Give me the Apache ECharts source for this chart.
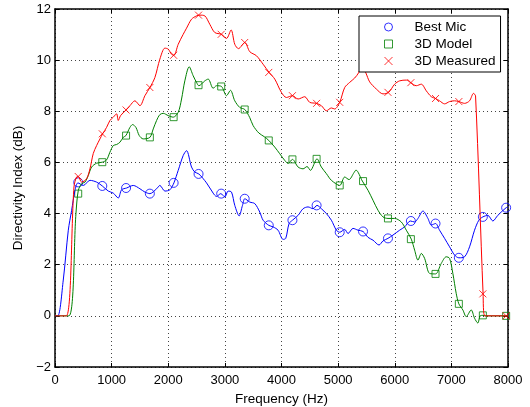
<!DOCTYPE html>
<html><head><meta charset="utf-8">
<script src="https://cdn.jsdelivr.net/npm/echarts@6/dist/echarts.min.js"></script>
<style>html,body{margin:0;padding:0;background:#fff}#c{width:530px;height:407px}</style>
</head><body><div id="c"></div>
<script>
// x-axis / y-axis tick definitions
const xTicks = [0, 1000, 2000, 3000, 4000, 5000, 6000, 7000, 8000];
const yTicks = [-2, 0, 2, 4, 6, 8, 10, 12];

// Curves: [frequency (Hz), directivity index (dB)]
const bestMic = [[0,0],[50,0],[146,1.40],[235,3.35],[294,4.13],[353,4.9],[405,5.2],[500,5.1],[617,5.3],[735,5.23],[835,5.08],[941,4.88],[1029,4.8],[1117,4.61],[1176,4.93],[1264,5.0],[1382,5.1],[1500,4.97],[1588,4.84],[1676,4.78],[1794,4.97],[1852,5.1],[1941,4.88],[2029,4.93],[2100,5.2],[2176,5.69],[2264,6.27],[2323,6.46],[2411,5.82],[2470,5.62],[2540,5.55],[2676,5.2],[2793,4.8],[2852,4.67],[2928,4.78],[2999,4.65],[3058,4.88],[3117,4.84],[3175,4.32],[3252,3.91],[3311,4.32],[3352,4.58],[3440,4.45],[3528,4.39],[3616,4.06],[3675,3.74],[3775,3.54],[3851,3.48],[3939,3.35],[4028,2.99],[4075,3.03],[4134,3.61],[4193,3.74],[4293,3.93],[4381,4.19],[4469,4.26],[4557,4.19],[4627,4.32],[4704,4.19],[4793,4.0],[4881,3.74],[4969,3.35],[5028,3.27],[5116,3.38],[5175,3.22],[5263,3.42],[5351,3.35],[5440,3.3],[5528,3.07],[5616,2.96],[5722,2.77],[5792,2.93],[5880,3.03],[5969,3.16],[6086,3.35],[6175,3.48],[6275,3.71],[6351,3.67],[6410,3.81],[6498,4.1],[6586,3.81],[6645,3.55],[6721,3.61],[6791,3.35],[6880,3.03],[6968,2.7],[7056,2.38],[7132,2.27],[7233,2.31],[7321,2.7],[7409,3.35],[7485,3.74],[7556,3.87],[7644,3.93],[7732,3.71],[7820,3.93],[7967,4.23],[8000,4.25]];

const model3D = [[0,0],[245,0],[370,4.0],[411,4.9],[470,5.17],[529,5.23],[588,5.49],[647,5.82],[735,5.97],[835,6.01],[911,6.1],[970,6.4],[1029,6.66],[1088,6.7],[1147,6.79],[1205,6.98],[1252,7.05],[1323,7.37],[1370,7.48],[1429,7.37],[1488,7.05],[1558,6.92],[1676,6.98],[1735,7.31],[1794,7.64],[1852,7.87],[1911,7.92],[2000,7.83],[2088,7.77],[2176,7.96],[2235,8.48],[2293,9.19],[2370,9.74],[2440,9.39],[2499,9.13],[2540,9.0],[2646,9.19],[2705,9.26],[2793,8.9],[2852,9.0],[2940,8.97],[3029,8.61],[3099,8.82],[3175,8.41],[3263,8.15],[3352,8.07],[3440,7.75],[3499,7.44],[3600,7.15],[3700,7.0],[3775,6.86],[3881,6.6],[3969,6.34],[4057,6.08],[4116,5.96],[4193,6.12],[4293,5.82],[4381,5.75],[4451,5.84],[4510,5.69],[4627,6.14],[4704,5.82],[4793,5.56],[4881,5.3],[5028,5.1],[5116,5.43],[5192,5.33],[5280,5.6],[5315,5.7],[5428,5.27],[5528,4.91],[5616,4.52],[5704,4.13],[5792,3.87],[5880,3.81],[5998,3.81],[6116,3.67],[6204,3.35],[6292,3.0],[6351,2.57],[6410,2.18],[6469,2.44],[6527,2.25],[6615,1.66],[6721,1.64],[6821,2.05],[6909,2.31],[6968,2.25],[7026,1.66],[7085,0.88],[7132,0.47],[7203,0.23],[7262,-0.03],[7350,0.23],[7409,-0.09],[7467,-0.28],[7509,0],[7556,0.02],[7600,0],[8000,0]];

const measured3D = [[0,0],[200,0],[335,5.04],[380,5.43],[410,5.45],[470,5.23],[558,5.36],[617,5.75],[676,6.35],[735,6.66],[794,6.92],[841,7.12],[911,7.37],[970,7.64],[1029,7.77],[1088,7.9],[1117,7.64],[1158,7.83],[1252,8.05],[1323,8.22],[1411,8.41],[1500,8.22],[1588,8.61],[1676,8.93],[1764,9.32],[1852,10.04],[1941,10.47],[2000,10.43],[2058,10.23],[2100,10.19],[2176,10.62],[2264,11.01],[2323,11.25],[2411,11.6],[2499,11.73],[2558,11.76],[2646,11.73],[2734,11.4],[2822,11.08],[2940,11.01],[3029,10.85],[3110,11.18],[3175,10.62],[3240,10.45],[3352,10.69],[3440,10.33],[3558,10.17],[3675,9.84],[3781,9.52],[3881,9.26],[3998,8.74],[4087,8.54],[4193,8.61],[4293,8.48],[4410,8.57],[4498,8.35],[4616,8.31],[4704,8.22],[4793,8.02],[4881,8.13],[4939,8.09],[5028,8.35],[5116,8.93],[5204,9.13],[5292,9.3],[5360,9.5],[5420,9.8],[5490,9.5],[5557,9.15],[5675,8.87],[5792,8.68],[5892,8.74],[5998,9.06],[6086,9.19],[6204,9.22],[6280,9.12],[6380,9.0],[6469,9.06],[6557,8.8],[6645,8.57],[6721,8.5],[6791,8.41],[6880,8.29],[6968,8.38],[7056,8.41],[7132,8.38],[7233,8.31],[7321,8.41],[7391,8.7],[7427,8.6],[7560,0.86],[7590,0],[8000,0]];

// Marker positions and values
const markerFreq = [410, 835, 1255, 1675, 2095, 2535, 2935, 3350, 3775, 4193, 4620, 5028, 5440, 5880, 6285, 6720, 7132, 7556, 7967];
const bestMicMarkers = [5.22, 5.08, 5.0, 4.78, 5.2, 5.55, 4.78, 4.58, 3.54, 3.74, 4.32, 3.27, 3.3, 3.03, 3.71, 3.61, 2.27, 3.87, 4.23];
const model3DMarkers = [4.78, 6.01, 7.05, 6.98, 7.77, 9.02, 8.97, 8.07, 6.86, 6.12, 6.14, 5.1, 5.27, 3.81, 3.0, 1.64, 0.47, 0.02, 0];
const measured3DMarkers = [5.45, 7.12, 8.05, 8.93, 10.19, 11.76, 11.01, 10.69, 9.52, 8.61, 8.31, 8.35, 9.85, 8.74, 9.12, 8.5, 8.38, 0.86, 0];

const seriesNames = ['Best Mic', '3D Model', '3D Measured'];
const colors = ['#0000ff', '#008000', '#ff0000'];

const FONT = 'Liberation Sans, Arial, Helvetica, sans-serif';
const SQUARE = 'path://M0,0L10,0L10,10L0,10Z';
const CROSS = 'path://M0,0L10,10M10,0L0,10';
const zipM = (vals) => markerFreq.map((f, i) => [f, vals[i]]);

const chart = echarts.init(document.getElementById('c'), null, {renderer: 'canvas'});
const gridLine = {show: true, lineStyle: {color: '#444', width: 1, type: [1, 3]}};
const axisCommon = {
  type: 'value',
  axisLine: {show: true, onZero: false, lineStyle: {color: '#000', width: 1.5}},
  axisTick: {show: true, inside: true, length: 4, lineStyle: {color: '#000'}},
  axisLabel: {color: '#000', fontSize: 13, fontFamily: FONT},
  nameTextStyle: {color: '#000', fontSize: 13.5, fontFamily: FONT}
};

function lineSeries(name, data, color) {
  return {name: name + ' line', type: 'line', data: data, showSymbol: false, symbol: 'none',
    smooth: 0.3, lineStyle: {color: color, width: 1}, itemStyle: {color: color}, silent: true};
}
function markSeries(name, data, color, symbol, size) {
  return {name: name, type: 'scatter', data: data, symbol: symbol, symbolSize: size,
    itemStyle: {color: 'transparent', borderColor: color, borderWidth: 1}, silent: true};
}

chart.setOption({
  animation: false,
  backgroundColor: '#fff',
  grid: {left: 55, right: 22, top: 9, bottom: 40, show: false, containLabel: false, outerBoundsMode: 'none'},
  xAxis: [
    Object.assign({}, axisCommon, {
      position: 'bottom', min: xTicks[0], max: xTicks[xTicks.length - 1], interval: 1000,
      name: 'Frequency (Hz)', nameLocation: 'middle', nameGap: 25,
      axisLabel: Object.assign({}, axisCommon.axisLabel, {margin: 7, formatter: v => String(v)}),
      splitLine: gridLine
    }),
    Object.assign({}, axisCommon, {
      position: 'top', min: xTicks[0], max: xTicks[xTicks.length - 1], interval: 1000,
      axisLabel: {show: false}, splitLine: {show: false}
    })
  ],
  yAxis: [
    Object.assign({}, axisCommon, {
      position: 'left', min: yTicks[0], max: yTicks[yTicks.length - 1], interval: 2,
      name: 'Directivity Index (dB)', nameLocation: 'middle', nameGap: 22,
      axisLabel: Object.assign({}, axisCommon.axisLabel, {margin: 4,
        formatter: v => String(v).replace('-', '\u2212')}),
      splitLine: gridLine
    }),
    Object.assign({}, axisCommon, {
      position: 'right', min: yTicks[0], max: yTicks[yTicks.length - 1], interval: 2,
      axisLabel: {show: false}, splitLine: {show: false}
    })
  ],
  legend: {
    data: [
      {name: seriesNames[0], icon: 'circle'},
      {name: seriesNames[1], icon: SQUARE},
      {name: seriesNames[2], icon: CROSS}
    ],
    orient: 'vertical', left: 359, top: 16, padding: [4, 5, 4, 25],
    itemWidth: 8, itemHeight: 8, itemGap: 3,
    backgroundColor: '#fff', borderColor: '#000', borderWidth: 1, borderRadius: 0,
    itemStyle: {borderWidth: 1},
    textStyle: {color: '#000', fontSize: 13.5, fontFamily: FONT, padding: [0, 0, 0, 17]},
    selectedMode: false
  },
  series: [
    lineSeries(seriesNames[0], bestMic, colors[0]),
    markSeries(seriesNames[0], zipM(bestMicMarkers), colors[0], 'circle', 9),
    lineSeries(seriesNames[1], model3D, colors[1]),
    markSeries(seriesNames[1], zipM(model3DMarkers), colors[1], SQUARE, 7),
    lineSeries(seriesNames[2], measured3D, colors[2]),
    markSeries(seriesNames[2], zipM(measured3DMarkers), colors[2], CROSS, 7)
  ]
});
</script>
</body></html>
